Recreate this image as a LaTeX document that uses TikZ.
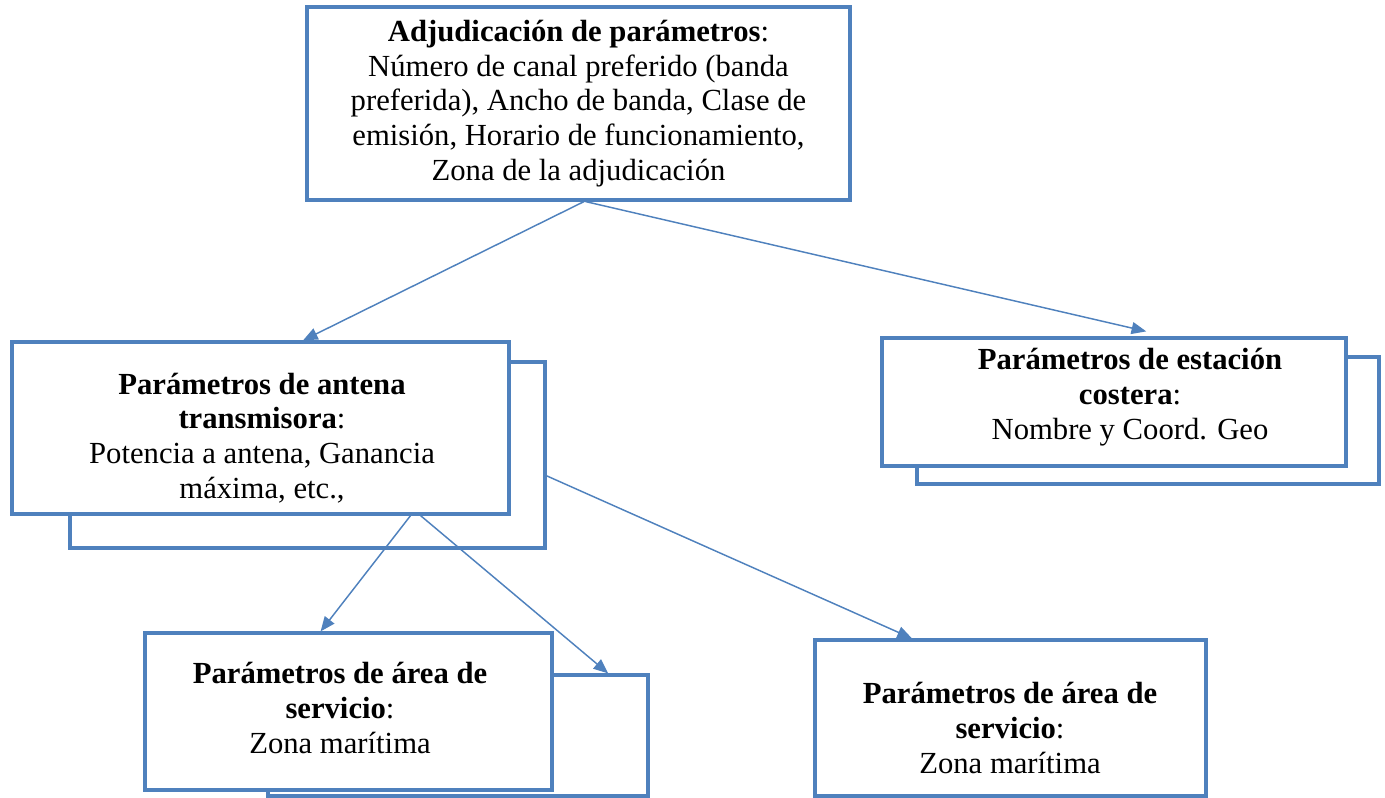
\documentclass[tikz,border=0pt]{standalone}
\usepackage{fontspec}
\setmainfont{Liberation Serif}
\usetikzlibrary{arrows.meta,calc}
\definecolor{boxblue}{HTML}{4F81BD}
\tikzset{
  box/.style={draw=boxblue,line width=2.4pt,fill=white,align=center,inner sep=0pt,
    font=\fontsize{23}{26}\selectfont},
  link/.style={draw=boxblue,line width=1.1pt,-{Triangle[length=11pt,width=9pt]}}
}
\begin{document}
\begin{tikzpicture}[x=0.75pt,y=-0.75pt]
\useasboundingbox (0,0) rectangle (1385,798);
% top box
\node[box,minimum width=407.25pt,minimum height=144.75pt] (top) at (578.5,103.5)
  {\textbf{Adjudicación de parámetros}:\\Número de canal preferido (banda\\preferida), Ancho de banda, Clase de\\emisión, Horario de funcionamiento,\\Zona de la adjudicación};
% antenna
\node[box,minimum width=356.25pt,minimum height=139.5pt] (antb) at (307.5,455) {};
\node[box,minimum width=372.75pt,minimum height=129pt] (ant) at (260.5,428) {};
\node[font=\fontsize{23}{26}\selectfont,align=center] (antt) at (262,438)
  {\textbf{Parámetros de antena}\\\textbf{transmisora}:\\Potencia a antena, Ganancia\\máxima, etc.,};
% coastal
\node[box,minimum width=346.5pt,minimum height=95.25pt] (coastb) at (1148,420.5) {};
\node[box,minimum width=348pt,minimum height=96pt] (coast) at (1114,402) {};
\node[font=\fontsize{23}{26}\selectfont,align=center] (coastt) at (1130,397)
  {\textbf{Parámetros de estación}\\\textbf{costera}:\\Nombre y Coord. Geo};
% service left
\node[box,minimum width=285pt,minimum height=90.75pt] (servb) at (458,735.5) {};
\node[box,minimum width=305.25pt,minimum height=117.75pt] (serv) at (348.5,711.5) {};
\node[font=\fontsize{23}{26}\selectfont,align=center] (servt) at (340,708)
  {\textbf{Parámetros de área de}\\\textbf{servicio}:\\Zona marítima};
% service right
\node[box,minimum width=293.25pt,minimum height=117pt] (servr) at (1010.5,718) {};
\node[font=\fontsize{23}{26}\selectfont,align=center] (servrt) at (1010,728)
  {\textbf{Parámetros de área de}\\\textbf{servicio}:\\Zona marítima};
% connectors
\draw[link] ($(top.south west)!0.51!(top.south east)$) -- ($(ant.north west)!0.585!(ant.north east)$);
\draw[link] ($(top.south west)!0.513!(top.south east)$) -- ($(coast.north west)!0.569!(coast.north east)+(0,-5)$);
\draw[link] ($(ant.south west)!0.80!(ant.south east)$) -- ($(serv.north west)!0.432!(serv.north east)$);
\draw[link] ($(ant.south west)!0.82!(ant.south east)$) -- ($(servb.north west)!0.892!(servb.north east)$);
\draw[link] ($(antb.north east)!0.61!(antb.south east)$) -- ($(servr.north west)!0.25!(servr.north east)$);
\end{tikzpicture}
\end{document}
